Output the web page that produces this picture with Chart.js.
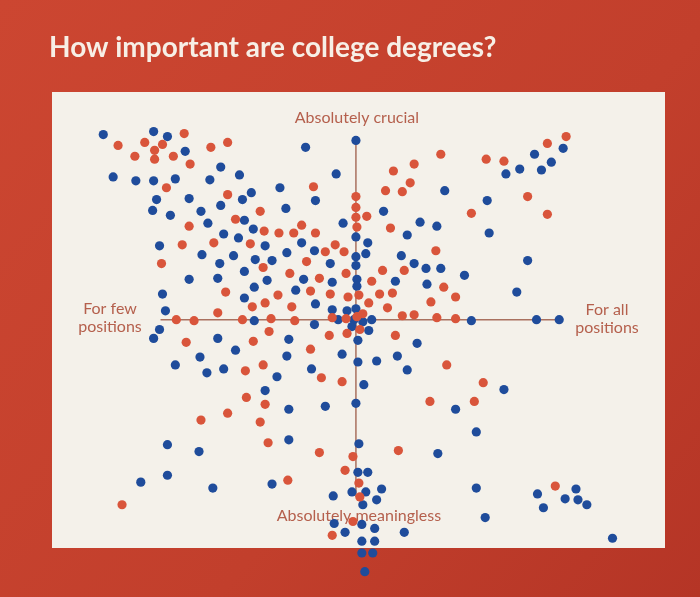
<!DOCTYPE html>
<html>
<head>
<meta charset="utf-8">
<title>How important are college degrees?</title>
<script src="https://cdn.jsdelivr.net/npm/chart.js@4.4.1/dist/chart.umd.min.js"></script>
<style>
  html, body { margin: 0; padding: 0; background: #c4402d; }
  canvas { display: block; }
</style>
</head>
<body>
<canvas id="degrees-chart" width="700" height="597"></canvas>
<script>
// x: for few positions (-) ... for all positions (+)
// y: absolutely meaningless (-) ... absolutely crucial (+)
const redAnswers = [
  [-24.1, 17.7], [-17.4, 18.9], [-21.4, 18.0], [-19.6, 17.8], [-20.4, 17.2], [-22.4, 16.6],
  [-20.4, 16.3], [-18.5, 16.6], [-14.7, 17.5], [-13.0, 18.0], [-16.8, 15.8], [-19.2, 13.4],
  [-4.3, 13.5], [-13.0, 12.7], [-9.7, 11.0], [0, 12.5], [0, 11.4], [0, 10.4], [0.1, 9.4],
  [-16.9, 9.5], [-12.2, 10.2], [-9.3, 9.0], [-7.8, 8.8], [-6.3, 8.8], [-5.5, 9.6], [-4.1, 8.8],
  [-17.6, 7.6], [-14.4, 7.8], [-10.7, 7.7], [-2.1, 7.6], [-3.1, 6.9], [-1.2, 6.9], [-5.0, 5.9],
  [-19.7, 5.7], [-9.4, 5.3], [-6.7, 4.7], [-1.0, 4.7], [-3.7, 4.2], [-13.2, 2.8], [-7.9, 2.5],
  [-4.6, 2.9], [-2.6, 2.6], [-0.8, 2.3], [-10.5, 1.3], [-9.2, 1.7], [-6.5, 1.3], [-14.0, 0.7],
  [-18.2, 0], [-16.4, -0.1], [-11.5, 0], [-8.6, 0.1], [-6.2, -0.1], [-2.4, 0.2], [-17.2, -2.3],
  [-10.4, -2.2], [-8.8, -1.2], [-2.7, -1.6], [-0.9, -1.4], [-11.2, -5.2], [-9.4, -4.6],
  [-4.6, -3.0], [-3.5, -5.9], [-1.4, -6.3], [-11.1, -7.9], [-9.2, -8.6], [-13.0, -9.5],
  [-15.7, -10.2], [-9.7, -10.4], [-8.9, -12.5], [-3.7, -13.5], [-0.3, -13.9], [-1.1, -15.3],
  [-6.9, -16.3], [-23.7, -18.8], [-0.3, -20.5], [-2.4, -21.9],
  [8.6, 16.8], [5.9, 15.8], [3.8, 15.1], [5.5, 13.9], [3.0, 13.1], [4.7, 13.0], [13.2, 16.3],
  [15.0, 16.1], [19.4, 17.9], [21.3, 18.6], [17.4, 12.5], [19.4, 10.7], [11.7, 10.8],
  [1.1, 10.5], [3.5, 9.3], [8.1, 7.0], [2.7, 5.0], [4.9, 5.0], [1.6, 3.9], [8.9, 3.3],
  [0.3, 2.5], [2.4, 2.6], [3.7, 2.7], [1.3, 1.7], [3.2, 1.2], [7.6, 1.8], [10.1, 2.3],
  [0.7, 0.6], [4.7, 0.4], [5.9, 0.5], [8.2, 0.2], [10.1, 0.1], [4.0, -1.6], [9.2, -4.6],
  [12.9, -6.4], [7.5, -8.3], [12.0, -8.3], [4.3, -13.3], [0.3, -16.6], [0.4, -18.0],
  [20.2, -16.9], [-1.0, 0.1], [0.1, 0.3], [0.4, -1.0]
];

const blueAnswers = [
  [-25.6, 18.8], [-20.5, 19.1], [-19.1, 18.6], [-17.3, 17.1], [-5.1, 17.5], [0, 18.2],
  [-13.7, 15.5], [-11.8, 14.7], [-24.6, 14.5], [-22.3, 14.1], [-20.5, 14.1], [-18.3, 14.3],
  [-14.8, 14.2], [-2.0, 14.8], [-7.7, 13.4], [-10.6, 12.9], [-20.2, 12.2], [-16.9, 12.3],
  [-11.5, 12.2], [-4.1, 12.1], [-20.6, 11.1], [-18.8, 10.6], [-15.7, 11.0], [-13.7, 11.6],
  [-7.1, 11.3], [-1.3, 9.8], [-15.0, 9.8], [-11.3, 10.1], [-10.4, 9.2], [0, 8.4], [-13.4, 8.7],
  [-11.9, 8.3], [-19.9, 7.5], [-9.2, 7.5], [-5.5, 7.8], [-4.2, 7.0], [-7.0, 6.8], [-15.6, 6.6],
  [-12.4, 6.5], [-10.2, 6.1], [-8.5, 6.0], [-2.6, 5.7], [0, 6.4], [0, 5.5], [-13.8, 5.7],
  [-11.3, 4.9], [-16.9, 4.1], [-14.0, 4.2], [-9.0, 4.0], [-5.3, 4.1], [-2.4, 3.8], [0.1, 4.1],
  [0.1, 3.4], [-19.6, 2.6], [-10.3, 3.3], [-6.1, 3.0], [-11.3, 2.2], [-4.1, 1.6], [-19.3, 0.9],
  [-2.4, 1.0], [-0.9, 0.9], [0, 1.1], [-10.3, -0.1], [-1.8, 0], [-4.2, -0.5], [-19.9, -1.0],
  [-20.5, -1.9], [-14.0, -1.9], [-6.8, -2.0], [-12.2, -3.1], [-15.8, -3.8], [-18.3, -4.6],
  [-15.1, -5.4], [-13.4, -5.0], [-7.0, -3.7], [-1.4, -3.5], [-4.5, -5.0], [-8.0, -5.8],
  [-9.2, -7.2], [-6.8, -9.1], [-3.1, -8.8], [-19.1, -12.7], [-15.9, -13.4], [-6.8, -12.2],
  [-19.1, -15.8], [-21.8, -16.5], [-14.5, -17.1], [-8.5, -16.7], [-2.3, -17.9], [-0.4, -17.5],
  [-2.2, -20.7], [-1.1, -21.6],
  [9.0, 13.1], [15.2, 14.8], [16.6, 15.3], [18.1, 16.8], [21.0, 17.4], [19.8, 16.0],
  [18.8, 15.2], [13.3, 12.1], [13.5, 8.8], [17.4, 6.0], [16.3, 2.8], [2.8, 11.0], [6.5, 9.9],
  [8.2, 9.5], [5.2, 8.6], [1.2, 7.8], [1.0, 6.7], [4.6, 6.5], [5.9, 5.7], [7.1, 5.2],
  [8.6, 5.2], [11.0, 4.5], [4.0, 3.9], [7.2, 3.6], [11.7, -0.1], [18.3, 0], [20.6, 0],
  [1.6, 0], [1.3, -1.1], [6.2, -2.4], [0.2, -2.1], [0.2, -4.3], [2.1, -4.2], [4.2, -3.7],
  [5.2, -5.1], [15.0, -7.1], [0.8, -6.6], [0, -8.5], [10.1, -9.1], [12.2, -11.4], [0.3, -12.6],
  [8.3, -13.6], [0.2, -15.5], [1.2, -15.5], [1.0, -17.5], [2.6, -17.2], [2.1, -18.3],
  [0.7, -18.8], [0.6, -20.8], [1.9, -21.2], [4.9, -21.6], [0.6, -22.5], [1.9, -22.5],
  [0.6, -23.7], [1.7, -23.7], [0.9, -25.6], [12.2, -17.1], [13.1, -20.1], [18.4, -17.7],
  [22.3, -17.2], [21.2, -18.2], [22.5, -18.3], [23.4, -18.8], [19.0, -19.1], [26.0, -22.2],
  [-0.2, 0], [0.7, -0.2], [-0.4, -0.7]
];

const chartTitle = "How important are college degrees?";
const topLabel = "Absolutely crucial";
const bottomLabel = "Absolutely meaningless";
const leftLabel = ["For few", "positions"];
const rightLabel = ["For all", "positions"];

const toPoints = (pairs) => pairs.map(([x, y]) => ({ x, y }));

// red backdrop, paper sheet, title, cross-hair and the four end labels
const slide = {
  id: "slide",
  beforeDraw(chart) {
    const { ctx, width, height } = chart;
    ctx.save();
    const bg = ctx.createLinearGradient(0, 0, width, height);
    bg.addColorStop(0, "#cc4631");
    bg.addColorStop(0.6, "#c23f2c");
    bg.addColorStop(1, "#b53526");
    ctx.fillStyle = bg;
    ctx.fillRect(0, 0, width, height);

    ctx.fillStyle = "#f4f1ea";
    ctx.fillRect(52, 92, 613, 456);

    ctx.fillStyle = "#f7efe6";
    ctx.font = "bold 28px Lato";
    ctx.textBaseline = "alphabetic";
    ctx.fillText(chartTitle, 49, 57);
    ctx.restore();
  },
  beforeDatasetsDraw(chart) {
    const { ctx, scales: { x, y } } = chart;
    const cx = x.getPixelForValue(0);
    const cy = y.getPixelForValue(0);
    ctx.save();
    ctx.strokeStyle = "#a9715f";
    ctx.lineWidth = 1.5;
    ctx.beginPath();
    ctx.moveTo(cx, y.getPixelForValue(18.2));
    ctx.lineTo(cx, y.getPixelForValue(-18.0));
    ctx.moveTo(x.getPixelForValue(-19.8), cy);
    ctx.lineTo(x.getPixelForValue(20.6), cy);
    ctx.stroke();

    ctx.fillStyle = "#b5604d";
    ctx.font = "16px Lato";
    ctx.textAlign = "center";
    ctx.textBaseline = "middle";
    ctx.fillText(topLabel, cx + 1, 118);
    ctx.fillText(bottomLabel, cx + 3, 516);
    ctx.fillText(leftLabel[0], 110, 309);
    ctx.fillText(leftLabel[1], 110, 327);
    ctx.fillText(rightLabel[0], 607, 310);
    ctx.fillText(rightLabel[1], 607, 328);
    ctx.restore();
  }
};

new Chart(document.getElementById("degrees-chart"), {
  type: "scatter",
  data: {
    datasets: [
      {
        label: "Red",
        data: toPoints(redAnswers),
        backgroundColor: "#d9553b",
        borderWidth: 0,
        pointRadius: 4.6,
      },
      {
        label: "Blue",
        data: toPoints(blueAnswers),
        backgroundColor: "#1f4c9b",
        borderWidth: 0,
        pointRadius: 4.6,
      },
    ],
  },
  options: {
    responsive: false,
    animation: false,
    layout: { padding: 0 },
    scales: {
      x: { type: "linear", min: -35.6, max: 34.4, display: false },
      y: { type: "linear", min: -27.7, max: 32, display: false },
    },
    plugins: {
      legend: { display: false },
      tooltip: { enabled: false },
    },
  },
  plugins: [slide],
});
</script>
</body>
</html>
